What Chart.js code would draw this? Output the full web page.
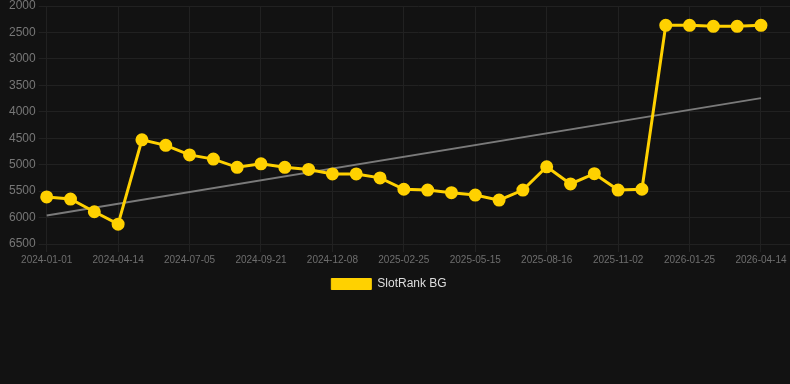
<!DOCTYPE html>
<html>
<head>
<meta charset="utf-8">
<script src="https://cdn.jsdelivr.net/npm/chart.js@4/dist/chart.umd.min.js"></script>
<style>
  html, body { margin: 0; padding: 0; background: #121212; }
  #wrap { width: 790px; height: 384px; }
</style>
</head>
<body>
<div id="wrap"><canvas id="c" width="790" height="384"></canvas></div>
<script>
const dates = [
  '2024-01-01','2024-02-04','2024-03-10','2024-04-14','2024-05-11','2024-06-08',
  '2024-07-05','2024-07-31','2024-08-26','2024-09-21','2024-10-17','2024-11-12',
  '2024-12-08','2025-01-03','2025-01-30','2025-02-25','2025-03-24','2025-04-19',
  '2025-05-15','2025-06-15','2025-07-16','2025-08-16','2025-09-10','2025-10-07',
  '2025-11-02','2025-11-30','2025-12-28','2026-01-25','2026-02-20','2026-03-18',
  '2026-04-14'
];
const rankValues = [
  5610, 5650, 5890, 6125, 4530, 4635, 4815, 4895, 5050, 4985,
  5050, 5090, 5175, 5175, 5250, 5465, 5480, 5530, 5575, 5670,
  5480, 5040, 5365, 5170, 5480, 5465, 2365, 2365, 2385, 2385,
  2365
];
const trendStart = 5960;
const trendEnd = 3742;
const yTicks = [2000, 2500, 3000, 3500, 4000, 4500, 5000, 5500, 6000, 6500];
const labelEvery = 3;

const rankPoints = rankValues.map((v, i) => ({ x: i, y: v }));
const trendPoints = [{ x: 0, y: trendStart }, { x: dates.length - 1, y: trendEnd }];
const tickIdx = dates.map((d, i) => i).filter(i => i % labelEvery === 0);

Chart.defaults.font.family = 'Arial, "Liberation Sans", sans-serif';

const legendShift = {
  id: 'legendShift',
  beforeDraw(chart) {
    const lg = chart.legend;
    if (lg && !lg._shifted) {
      lg.left -= 9; lg.right -= 9;
      if (lg.legendHitBoxes) lg.legendHitBoxes.forEach(b => { b.left -= 9; });
      lg._shifted = true;
    }
  }
};

new Chart(document.getElementById('c'), {
  type: 'line',
  data: {
    datasets: [
      {
        label: 'SlotRank BG',
        data: rankPoints,
        borderColor: '#FFD100',
        backgroundColor: '#FFD100',
        borderWidth: 3,
        pointRadius: 5,
        pointBackgroundColor: '#FFD100',
        pointBorderColor: '#FFD100',
        tension: 0,
        clip: false,
        order: 1
      },
      {
        label: 'trend',
        data: trendPoints,
        borderColor: '#7a7a7a',
        borderWidth: 2,
        pointRadius: 0,
        tension: 0,
        clip: false,
        order: 2
      }
    ]
  },
  plugins: [legendShift],
  options: {
    responsive: false,
    animation: false,
    layout: { autoPadding: false, padding: { bottom: 84, right: 0, left: 6, top: 0 } },
    plugins: {
      legend: {
        position: 'bottom',
        labels: {
          color: '#dddddd',
          font: { size: 12 },
          boxWidth: 40,
          boxHeight: 11,
          filter: item => item.text !== 'trend',
          generateLabels: chart => {
            const items = Chart.defaults.plugins.legend.labels.generateLabels(chart);
            items.forEach(it => { it.lineWidth = 1; });
            return items;
          }
        }
      },
      tooltip: { enabled: false }
    },
    scales: {
      x: {
        type: 'linear',
        min: 0,
        max: (dates.length - 1) * 743 / 714,
        afterBuildTicks: scale => { scale.ticks = tickIdx.map(v => ({ value: v })); },
        ticks: {
          color: '#6e6e6e',
          font: { size: 10 },
          maxRotation: 0,
          autoSkip: false,
          padding: 2,
          callback: v => dates[v]
        },
        grid: { color: '#212121' },
        border: { color: '#212121' }
      },
      y: {
        reverse: true,
        min: 2000,
        max: 6500,
        afterBuildTicks: scale => { scale.ticks = yTicks.map(v => ({ value: v })); },
        afterFit: scale => { scale.paddingTop = 6; },
        ticks: {
          color: '#777777',
          font: { size: 12 },
          callback: v => String(v)
        },
        grid: { color: '#212121' },
        border: { color: '#212121' }
      }
    }
  }
});
</script>
</body>
</html>
